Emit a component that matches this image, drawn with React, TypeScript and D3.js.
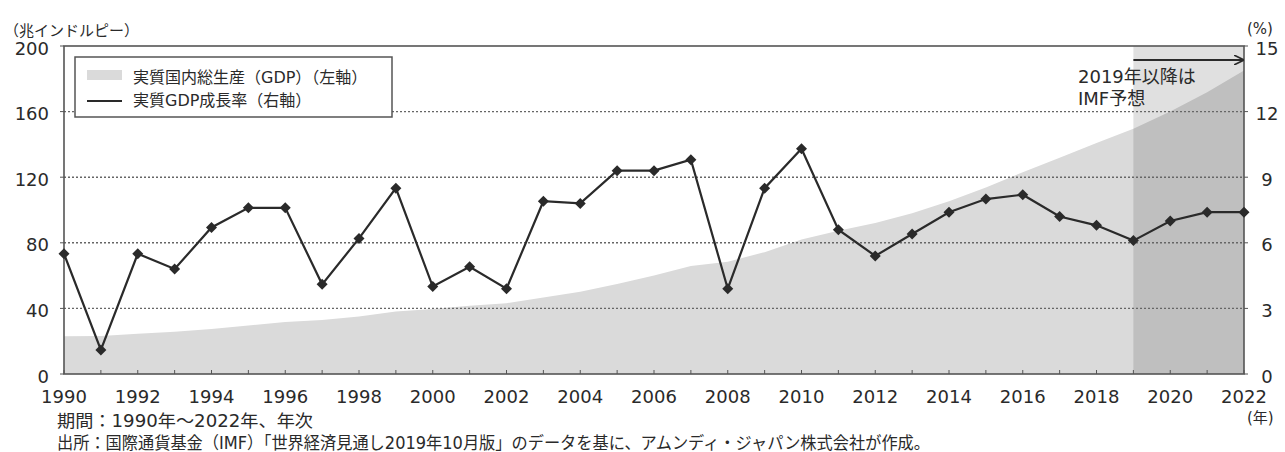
import React from "react";
import * as d3 from "d3";

// years on the x axis
const years = d3.range(1990, 2023);

const gdp = [
  23, 23.2, 24.5, 25.7, 27.4, 29.5, 31.7, 33, 35.1, 38.1, 39.6, 41.6, 43.2,
  46.6, 50.2, 54.9, 60, 65.9, 68.5, 74.3, 82, 87.4, 92.1, 98, 105.3, 113.7,
  123, 131.9, 140.9, 149.5, 160, 171.8, 185,
];

// real GDP growth, % (right axis)
const growth = [
  5.5, 1.1, 5.5, 4.8, 6.7, 7.6, 7.6, 4.1, 6.2, 8.5, 4.0, 4.9, 3.9, 7.9, 7.8,
  9.3, 9.3, 9.8, 3.9, 8.5, 10.3, 6.6, 5.4, 6.4, 7.4, 8.0, 8.2, 7.2, 6.8, 6.1,
  7.0, 7.4, 7.4,
];

const leftTicks = [0, 40, 80, 120, 160, 200];
const rightTicks = [0, 3, 6, 9, 12, 15];
const gridTicks = [40, 80, 120, 160];
const yearLabels = d3.range(1990, 2023, 2);
const forecastStart = 2019;

const legendLabels = ["実質国内総生産（GDP）（左軸）", "実質GDP成長率（右軸）"];
const note1 = "期間：1990年～2022年、年次";
const note2 =
  "出所：国際通貨基金（IMF）「世界経済見通し2019年10月版」のデータを基に、アムンディ・ジャパン株式会社が作成。";

const W = 1285;
const H = 452;
const left = 64;
const right = 1244;
const top = 46;
const bottom = 374;

const FONT = "'DejaVu Sans', 'Noto Sans CJK JP', sans-serif";
const INK = "#2a2a2a";

export default function App() {
  const x = d3.scaleLinear().domain([1990, 2022]).range([left, right]);
  const yL = d3.scaleLinear().domain([0, 200]).range([bottom, top]);
  const yR = d3.scaleLinear().domain([0, 15]).range([bottom, top]);

  const area = d3
    .area<number>()
    .x((_, i) => x(years[i]))
    .y0(bottom)
    .y1((d) => yL(d));

  const line = d3
    .line<number>()
    .x((_, i) => x(years[i]))
    .y((d) => yR(d));

  const diamond = (cx: number, cy: number, r: number) =>
    `M${cx},${cy - r}L${cx + r},${cy}L${cx},${cy + r}L${cx - r},${cy}Z`;

  const fx = x(forecastStart);

  return (
    <svg
      width={W}
      height={H}
      style={{ position: "absolute", left: 0, top: 0, background: "#fff" }}
      fontFamily={FONT}
    >
      <defs>
        <marker
          id="arr"
          viewBox="0 0 10 10"
          refX="10"
          refY="5"
          markerWidth="10"
          markerHeight="10"
          markerUnits="userSpaceOnUse"
          orient="auto"
        >
          <path d="M0,0L10,5L0,10" fill="none" stroke={INK} strokeWidth="1.6" />
        </marker>
      </defs>

      {/* GDP area */}
      <path d={area(gdp) ?? ""} fill="#dadada" />

      {/* forecast shading */}
      <rect
        x={fx}
        y={top}
        width={right - fx}
        height={bottom - top}
        fill="#000"
        opacity={0.12}
      />

      {/* grid */}
      {gridTicks.map((t) => (
        <line
          key={t}
          x1={left}
          x2={right}
          y1={yL(t)}
          y2={yL(t)}
          stroke="#666"
          strokeWidth={1.4}
          strokeDasharray="2,2"
        />
      ))}

      {/* frame */}
      <rect
        x={left}
        y={top}
        width={right - left}
        height={bottom - top}
        fill="none"
        stroke="#555"
        strokeWidth={1.6}
      />

      {/* x ticks */}
      {years.map((yr) => (
        <line
          key={yr}
          x1={x(yr)}
          x2={x(yr)}
          y1={bottom}
          y2={bottom - 4}
          stroke="#555"
          strokeWidth={1}
        />
      ))}
      {yearLabels.map((yr) => (
        <text
          key={yr}
          x={x(yr)}
          y={396}
          textAnchor="middle"
          dominantBaseline="central"
          fontSize={18}
          fill={INK}
        >
          {yr}
        </text>
      ))}

      {/* left axis */}
      {leftTicks.map((t) => (
        <g key={t}>
          <line x1={left - 4} x2={left} y1={yL(t)} y2={yL(t)} stroke="#555" />
          <text
            x={49}
            y={yL(t) + 2}
            textAnchor="end"
            dominantBaseline="central"
            fontSize={18}
            fill={INK}
          >
            {t}
          </text>
        </g>
      ))}

      {/* right axis */}
      {rightTicks.map((t) => (
        <g key={t}>
          <line x1={right} x2={right + 4} y1={yR(t)} y2={yR(t)} stroke="#555" />
          <text
            x={1267}
            y={yR(t) + 2}
            textAnchor="middle"
            dominantBaseline="central"
            fontSize={18}
            fill={INK}
          >
            {t}
          </text>
        </g>
      ))}

      <text x={4} y={31} dominantBaseline="central" fontSize={15} fill={INK}>
        （兆インドルピー）
      </text>
      <text x={1247} y={29} dominantBaseline="central" fontSize={15} fill={INK}>
        (%)
      </text>
      <text x={1247} y={418} dominantBaseline="central" fontSize={15} fill={INK}>
        (年)
      </text>

      {/* growth line */}
      <path d={line(growth) ?? ""} fill="none" stroke={INK} strokeWidth={2.2} />
      {growth.map((g, i) => (
        <path key={i} d={diamond(x(years[i]), yR(g), 5.5)} fill={INK} />
      ))}

      {/* legend */}
      <rect x={75} y={57} width={317} height={60} fill="#fff" stroke="#555" strokeWidth={1.5} />
      <rect x={87} y={70} width={35} height={10} fill="#dadada" />
      <line x1={87} x2={122} y1={101} y2={101} stroke={INK} strokeWidth={2} />
      <text x={133} y={77} dominantBaseline="central" fontSize={16} fill={INK}>
        {legendLabels[0]}
      </text>
      <text x={133} y={100} dominantBaseline="central" fontSize={16} fill={INK}>
        {legendLabels[1]}
      </text>

      {/* forecast annotation */}
      <line
        x1={fx}
        x2={right}
        y1={60}
        y2={60}
        stroke={INK}
        strokeWidth={2}
        markerEnd="url(#arr)"
      />
      <text x={1078} y={76} dominantBaseline="central" fontSize={18} fill={INK}>
        2019年以降は
      </text>
      <text x={1078} y={98} dominantBaseline="central" fontSize={18} fill={INK}>
        IMF予想
      </text>

      {/* notes */}
      <text
        x={57}
        y={421}
        dominantBaseline="central"
        fontSize={17}
        fill={INK}
        textLength={256}
        lengthAdjust="spacingAndGlyphs"
      >
        {note1}
      </text>
      <text
        x={57}
        y={443}
        dominantBaseline="central"
        fontSize={17}
        fill={INK}
        textLength={873}
        lengthAdjust="spacingAndGlyphs"
      >
        {note2}
      </text>
    </svg>
  );
}
